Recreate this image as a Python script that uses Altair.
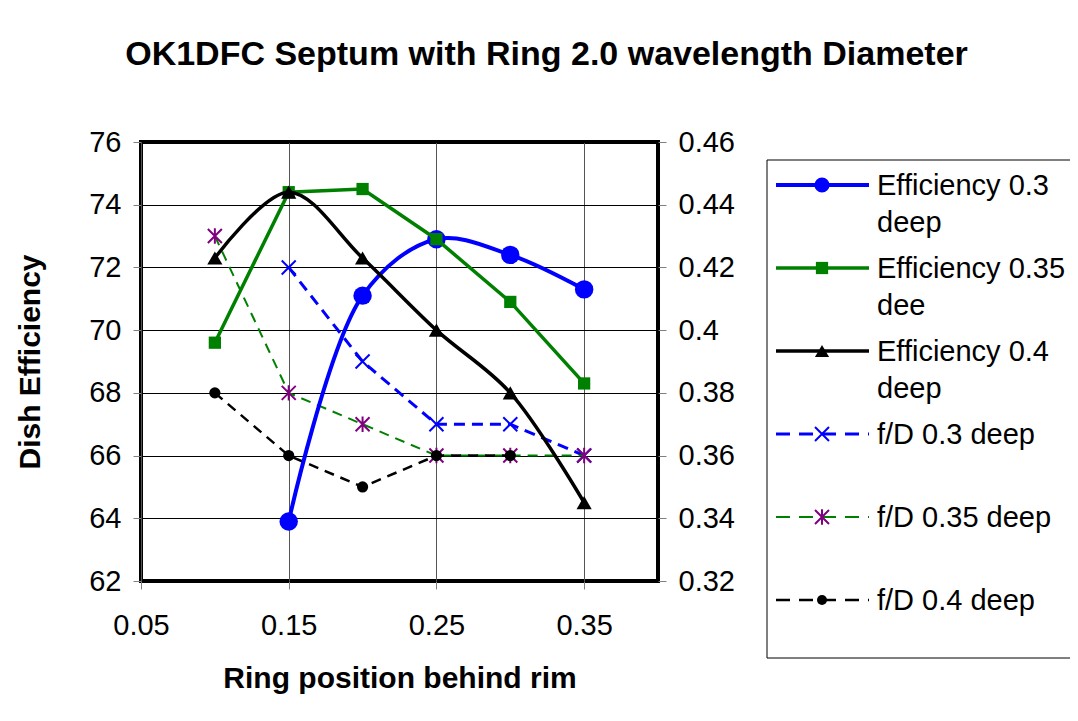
import altair as alt
import pandas as pd

# ---------------- data ----------------
ring_pos = [0.10, 0.15, 0.20, 0.25, 0.30, 0.35]
eff_03 = [None, 63.9, 71.1, 72.9, 72.4, 71.3]
eff_035 = [69.6, 74.4, 74.5, 72.9, 70.9, 68.3]
eff_04 = [72.3, 74.4, 72.3, 70.0, 68.0, 64.5]
fd_03 = [None, 0.42, 0.39, 0.37, 0.37, 0.36]
fd_035 = [0.43, 0.38, 0.37, 0.36, 0.36, 0.36]
fd_04 = [0.38, 0.36, 0.35, 0.36, 0.36, None]

series_keys = ["eff03", "eff035", "eff04", "fd03", "fd035", "fd04"]
legend_labels = [
    "Efficiency 0.3\ndeep",
    "Efficiency 0.35\ndee",
    "Efficiency 0.4\ndeep",
    "f/D 0.3 deep",
    "f/D 0.35 deep",
    "f/D 0.4 deep",
]

x_ticks = [0.05, 0.15, 0.25, 0.35]
left_ticks = [62, 64, 66, 68, 70, 72, 74, 76]
right_ticks = [0.32, 0.34, 0.36, 0.38, 0.40, 0.42, 0.44, 0.46]

title_text = "OK1DFC Septum with Ring 2.0 wavelength Diameter"
x_title = "Ring position behind rim"
y_title = "Dish Efficiency"

FONT = "Liberation Sans, Arial, sans-serif"

X_PATH = "M-1,-1L1,1M-1,1L1,-1"
STAR_PATH = "M-1,-1L1,1M-1,1L1,-1M0,-1.1L0,1.1"

styles = {
    "eff03": dict(vals=eff_03, color="#0000FF", width=4, dash=None, interp="catmull-rom",
                  shape="circle", size=340, lsize=230, filled=True, mcolor="#0000FF", mstroke=0),
    "eff035": dict(vals=eff_035, color="#008000", width=3.5, dash=None, interp="linear",
                   shape="square", size=150, lsize=150, filled=True, mcolor="#008000", mstroke=0),
    "eff04": dict(vals=eff_04, color="#000000", width=3.5, dash=None, interp="catmull-rom",
                  shape="triangle-up", size=230, lsize=200, filled=True, mcolor="#000000", mstroke=0),
    "fd03": dict(vals=fd_03, color="#0000FF", width=3, dash=[11, 7], interp="linear",
                 shape=X_PATH, size=196, lsize=196, filled=False, mcolor="#0000FF", mstroke=2),
    "fd035": dict(vals=fd_035, color="#008000", width=2, dash=[10, 7], interp="linear",
                  shape=STAR_PATH, size=196, lsize=196, filled=False, mcolor="#800080", mstroke=2),
    "fd04": dict(vals=fd_04, color="#000000", width=2.5, dash=[10, 7], interp="linear",
                 shape="circle", size=125, lsize=100, filled=True, mcolor="#000000", mstroke=0),
}

# ---------------- scales / axes ----------------
x_enc = alt.X(
    "pos:Q",
    scale=alt.Scale(domain=[0.05, 0.40], nice=False, zero=False),
    axis=alt.Axis(values=x_ticks, format=".2f", title=x_title, grid=True,
                  gridColor="#555555", labelPadding=22, labelFlush=False,
                  titleFontSize=30, titleFontWeight="bold", titleBaseline="alphabetic",
                  titleY=106),
)

y_left = alt.Y(
    "val:Q",
    scale=alt.Scale(domain=[62, 76], nice=False, zero=False),
    axis=alt.Axis(orient="left", values=left_ticks, format="d", title=y_title,
                  grid=True, gridColor="#000000", labelPadding=12, labelFlush=False,
                  titleFontSize=30, titleFontWeight="bold", titleAngle=270,
                  titleX=-111, titleY=219.5, titleBaseline="middle", titleAlign="center"),
)

y_right = alt.Y(
    "val:Q",
    scale=alt.Scale(domain=[0.32, 0.46], nice=False, zero=False),
    axis=alt.Axis(orient="right", values=right_ticks, format=".2~f", title=None,
                  grid=False, labelPadding=12, labelFlush=False),
)


def series_df(vals):
    return pd.DataFrame({"pos": ring_pos, "val": vals}).dropna()


def series_layers(key, y_enc):
    s = styles[key]
    df = series_df(s["vals"])
    line_kw = dict(color=s["color"], strokeWidth=s["width"], interpolate=s["interp"])
    if s["dash"]:
        line_kw["strokeDash"] = s["dash"]
    line = alt.Chart(df).mark_line(**line_kw).encode(x=x_enc, y=y_enc)
    pt_kw = dict(shape=s["shape"], size=s["size"], opacity=1)
    if s["filled"]:
        pt_kw.update(filled=True, color=s["mcolor"])
    else:
        pt_kw.update(filled=False, color=s["mcolor"], strokeWidth=s["mstroke"])
    pts = alt.Chart(df).mark_point(**pt_kw).encode(x=x_enc, y=y_enc)
    return [line, pts]


fd_layer = alt.layer(*(series_layers("fd03", y_right) + series_layers("fd035", y_right)
                       + series_layers("fd04", y_right)))
eff_layer = alt.layer(*(series_layers("eff03", y_left) + series_layers("eff035", y_left)
                        + series_layers("eff04", y_left)))

# ---------------- legend ----------------
leg_df = pd.DataFrame({"key": series_keys, "label": legend_labels})
leg_y = alt.Y("key:N", scale=alt.Scale(type="point", domain=series_keys, range=[43, 458], padding=0),
              axis=None)

leg_box = alt.Chart(pd.DataFrame({"k": [0]})).mark_rect(
    fill="white", stroke="#000000", strokeWidth=1
).encode(x=alt.value(626), x2=alt.value(960), y=alt.value(18), y2=alt.value(516))

leg_parts = [leg_box]
for key in series_keys:
    s = styles[key]
    sub = alt.Chart(leg_df).transform_filter(alt.datum.key == key)
    rule_kw = dict(color=s["color"], strokeWidth=s["width"])
    if s["dash"]:
        rule_kw["strokeDash"] = [14, 9]
    leg_parts.append(sub.mark_rule(**rule_kw).encode(x=alt.value(635), x2=alt.value(728), y=leg_y))
    pt_kw = dict(shape=s["shape"], size=s["lsize"], opacity=1)
    if s["filled"]:
        pt_kw.update(filled=True, color=s["mcolor"])
    else:
        pt_kw.update(filled=False, color=s["mcolor"], strokeWidth=s["mstroke"])
    leg_parts.append(sub.mark_point(**pt_kw).encode(x=alt.value(681), y=leg_y))

leg_text = alt.Chart(leg_df).mark_text(
    align="left", baseline="alphabetic", dy=10, fontSize=29, font=FONT,
    lineBreak="\n", lineHeight=37, color="black"
).encode(x=alt.value(736), y=leg_y, text="label:N")
leg_parts.append(leg_text)
legend_layer = alt.layer(*leg_parts)

chart = (
    alt.layer(fd_layer, eff_layer, legend_layer)
    .resolve_scale(y="independent")
    .properties(
        width=517,
        height=439,
        padding={"left": 133, "top": 134, "right": 412, "bottom": 132},
        autosize=alt.AutoSizeParams(type="none"),
        title=alt.TitleParams(text=title_text, font=FONT, fontSize=34, fontWeight="bold",
                              anchor="middle", frame="group", dx=147, offset=29,
                              baseline="alphabetic", color="black"),
        background="white",
    )
    .configure_view(stroke="black", strokeWidth=4)
    .configure_axis(labelFont=FONT, labelFontSize=29, titleFont=FONT, tickColor="#808080",
                    tickSize=8, tickWidth=1, domain=False, labelColor="black",
                    titleColor="black", gridWidth=1, gridOpacity=1)
)

chart.save("out.html", embed_options={"renderer": "svg", "actions": False})
